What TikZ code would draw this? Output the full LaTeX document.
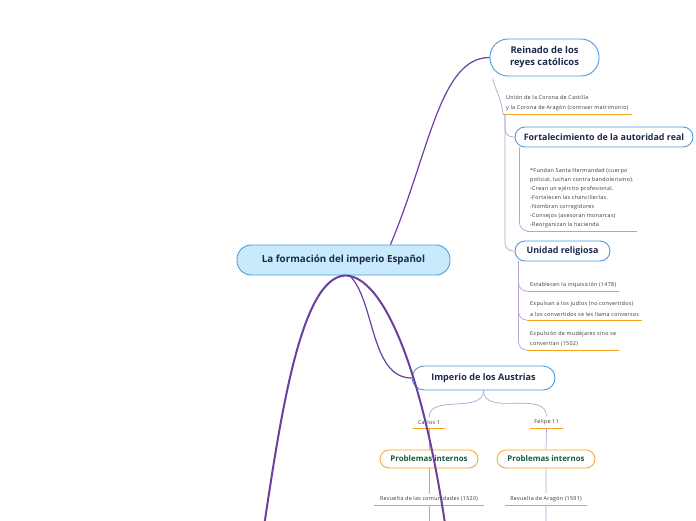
\documentclass[tikz,border=0pt]{standalone}
\usepackage{fontspec}
\setmainfont{Open Sans}
\newfontfamily\notefont{Open Sans}[LetterSpace=5]
\usetikzlibrary{calc}
\definecolor{navy}{HTML}{1B2A4E}
\definecolor{topicblue}{HTML}{4A9BE0}
\definecolor{rootfill}{HTML}{C8EAFB}
\definecolor{mainpurple}{HTML}{6B3FA0}
\definecolor{lightpurple}{HTML}{B9A0D8}
\definecolor{lineorange}{HTML}{F7A21B}
\definecolor{darkgreen}{HTML}{1F5A3C}
\definecolor{notegray}{HTML}{333333}
\begin{document}
\begin{tikzpicture}
  [x=1pt,y=-1pt,
   root/.style={draw=topicblue,fill=rootfill,rounded corners=14pt,minimum width=213pt,minimum height=30pt,text=navy,font=\fontsize{9.8}{11}\selectfont\bfseries,line width=0.9pt},
   topic/.style={draw=topicblue,fill=white,rounded corners=10pt,minimum height=20pt,text=navy,font=\fontsize{8.9}{10}\selectfont\bfseries,line width=0.9pt},
   problem/.style={draw=lineorange,fill=white,rounded corners=9pt,minimum width=98pt,minimum height=18pt,text=darkgreen,font=\fontsize{7.9}{9}\selectfont\bfseries,line width=0.8pt},
   note/.style={align=left,text=notegray,font=\notefont\fontsize{5.4}{9}\selectfont,inner xsep=3pt,inner ysep=3pt,anchor=south west},
   uline/.style={lineorange,line width=1pt},
   link/.style={mainpurple,line width=1.2pt},
   biglink/.style={mainpurple,line width=2pt},
   sublink/.style={lightpurple,line width=0.7pt,rounded corners=8pt}]
  \clip (0,0) rectangle (696,520);
  % main topics
  \node[root] (root) at (343.5,260) {La formación del imperio Español};
  \node[topic,minimum width=109pt,minimum height=37pt,rounded corners=18pt,align=center,font=\fontsize{9.4}{12}\selectfont\bfseries] (reinado) at (544.5,57.5) {Reinado de los\\reyes católicos};
  \node[topic,minimum width=178pt] (fort) at (604,137) {Fortalecimiento de la autoridad real};
  \node[topic,minimum width=95pt] (unidad) at (562.5,251) {Unidad religiosa};
  \node[topic,minimum width=143pt,minimum height=24pt,rounded corners=12pt,font=\fontsize{9.1}{10}\selectfont\bfseries] (austrias) at (483.5,378) {Imperio de los Austrias};
  \node[problem] (probA) at (429,459) {Problemas internos};
  \node[problem] (probB) at (546,459) {Problemas internos};
  % notes
  \node[note,font=\notefont\fontsize{5.4}{10}\selectfont] (union) at (503,114) {Unión de la Corona de Castilla\\y la Corona de Aragón (contraer matrimonio)};
  \node[note] (medidas) at (527,231) {*Fundan Santa Hermandad (cuerpo\\policial, luchan contra bandolerismo).\\-Crean un ejército profesional.\\-Fortalecen las chancillerías.\\-Nombran corregidores\\-Consejos (asesoran monarcas)\\-Reorganizan la hacienda};
  \node[note] (inquisicion) at (527,291) {Establecen la inquisición (1478)};
  \node[note,font=\notefont\fontsize{5.4}{11}\selectfont] (judios) at (527,320) {Expulsan a los judíos (no convertidos)\\a los convertidos se les llama conversos};
  \node[note,font=\notefont\fontsize{5.4}{10}\selectfont] (mudejares) at (527,350) {Expulsión de mudéjares sino se\\convertían (1502)};
  \node[note,anchor=south,minimum width=32pt] (carlos) at (429,428) {Carlos 1};
  \node[note,anchor=south,minimum width=33pt] (felipe) at (546.5,428) {Felipe 11};
  \node[note,anchor=south,minimum width=110pt] (comunidades) at (429,505) {Revuelta de las comunidades (1520)};
  \node[note,anchor=south,minimum width=82pt] (aragon) at (546,505) {Revuelta de Aragón (1591)};
  \foreach \n in {union,medidas,inquisicion,judios,mudejares,carlos,felipe,comunidades,aragon}
    \draw[uline] (\n.south west) -- (\n.south east);
  \coordinate (belowA) at (429,530);
  \coordinate (belowB) at (546,530);
  \coordinate (offA) at (262,540);
  \coordinate (offB) at (450,560);
  % thin links
  \draw[sublink] ($(reinado.south west)+(3,2)$) to[out=-75,in=95] (union.south west);
  \draw[sublink] ($(union.south west)+(2,0)$) |- (fort.west);
  \draw[sublink] ($(union.south west)+(2,0)$) |- (unidad.west);
  \draw[sublink] ($(fort.south west)+(5,0)$) |- (medidas.south west);
  \draw[sublink] ($(unidad.south west)+(4,0)$) |- (inquisicion.south west);
  \draw[sublink] ($(unidad.south west)+(4,0)$) |- (judios.south west);
  \draw[sublink] ($(unidad.south west)+(4,0)$) |- (mudejares.south west);
  \draw[sublink] (austrias.south) to[out=-90,in=90] (carlos.north);
  \draw[sublink] (austrias.south) to[out=-90,in=90] (felipe.north);
  \draw[sublink] (carlos.south) -- (probA.north) (probA.south) -- (comunidades.north) (comunidades.south) -- (belowA);
  \draw[sublink] (felipe.south) -- (probB.north) (probB.south) -- (aragon.north) (aragon.south) -- (belowB);
  % purple links
  \draw[link] ($(root.north)+(47,0)$) .. controls (430,150) and (440,57.5) .. (reinado.west);
  \draw[link] ($(root.south)+(6,0)$) .. controls (375,300) and (370,378) .. (austrias.west);
  \draw[biglink] ($(root.south)+(2,0)$) .. controls (300,277) and (280,420) .. (offA);
  \draw[biglink] ($(root.south)+(2,0)$) .. controls (390,277) and (430,400) .. (offB);
\end{tikzpicture}
\end{document}
